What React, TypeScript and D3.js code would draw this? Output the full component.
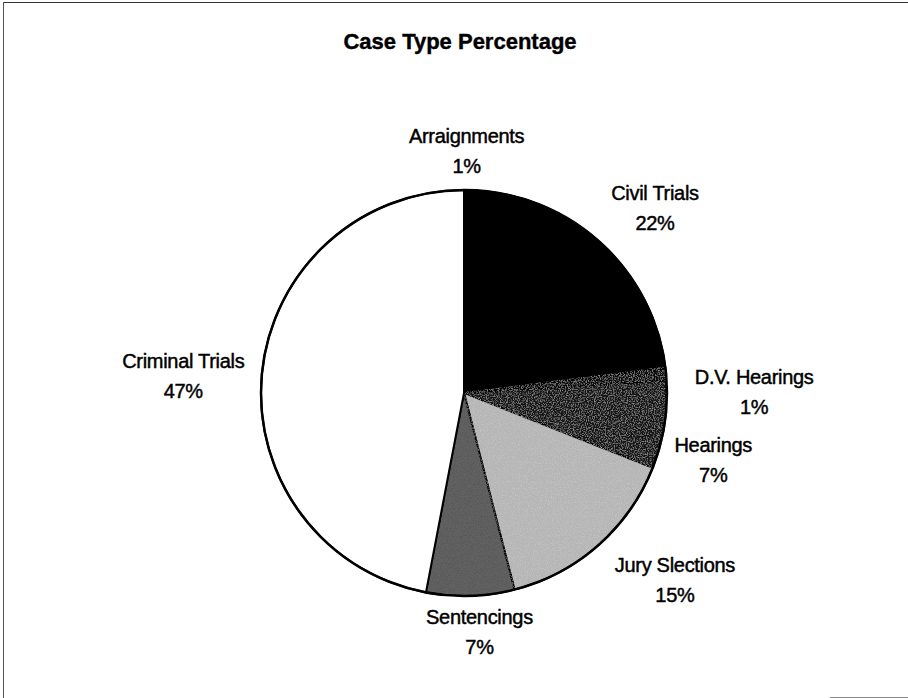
import React from "react";
import * as d3 from "d3";

// case types, clockwise from 12 o'clock
const categories = [
  "Arraignments",
  "Civil Trials",
  "D.V. Hearings",
  "Hearings",
  "Jury Slections",
  "Sentencings",
  "Criminal Trials",
];
const percents = [1, 22, 1, 7, 15, 7, 47];
const fills = ["#000000", "#000000", "#0c0c0c", "#121212", "#b6b6b6", "#626262", "#ffffff"];
const grains = ["", "", "grainDim", "grainDim", "grainSoft", "grainDark", ""];

// small hand tweaks so the labels sit where Excel put them
const labelNudge: Record<string, [number, number]> = {
  "Arraignments": [-6, -3],
  "Civil Trials": [3, -11],
  "D.V. Hearings": [12, 21],
  "Hearings": [-3, 30],
  "Jury Slections": [23, 8],
  "Sentencings": [7, 0],
  "Criminal Trials": [7, 5],
};

const W = 908;
const H = 698;
const cx = 464;
const cy = 393;
const radius = 203;

type Slice = { name: string; value: number; fill: string; grain: string };

// noise filter: speckles of a given grey, with a given density
const Grain = ({ id, grey, amount, seed }: { id: string; grey: number; amount: number; seed: number }) => (
  <filter id={id} x="0" y="0" width="100%" height="100%">
    <feTurbulence type="fractalNoise" baseFrequency="0.85" numOctaves="2" seed={seed} result="noise" />
    <feColorMatrix
      in="noise"
      type="matrix"
      values={`0 0 0 0 ${grey}  0 0 0 0 ${grey}  0 0 0 0 ${grey}  ${amount} 0 0 0 ${-amount * 0.46}`}
      result="dots"
    />
    <feComposite in="dots" in2="SourceGraphic" operator="in" result="clipped" />
    <feMerge>
      <feMergeNode in="SourceGraphic" />
      <feMergeNode in="clipped" />
    </feMerge>
  </filter>
);

const App = () => {
  const data: Slice[] = categories.map((name, i) => ({
    name,
    value: percents[i],
    fill: fills[i],
    grain: grains[i],
  }));

  const pie = d3
    .pie<Slice>()
    .sort(null)
    .value((d) => d.value)
    .startAngle(0)
    .endAngle(2 * Math.PI);
  const arcs = pie(data);

  const arc = d3.arc<d3.PieArcDatum<Slice>>().innerRadius(0).outerRadius(radius);

  const labelPos = (a: d3.PieArcDatum<Slice>) => {
    const mid = (a.startAngle + a.endAngle) / 2;
    const s = Math.sin(mid);
    const c = Math.cos(mid);
    const r = radius + 14;
    const w = a.data.name.length * 9.6;
    const [nx, ny] = labelNudge[a.data.name] || [0, 0];
    return {
      x: cx + s * r + (s * w) / 2 + nx,
      y: cy - c * r - c * 22 + ny,
    };
  };

  return (
    <svg
      width={W}
      height={H}
      style={{ position: "absolute", left: 0, top: 0, background: "#fff" }}
      fontFamily="'Liberation Sans', Arial, sans-serif"
    >
      <defs>
        <Grain id="grainDim" grey={0.24} amount={3} seed={3} />
        <Grain id="grainSoft" grey={0.62} amount={1.6} seed={5} />
        <Grain id="grainDark" grey={0.1} amount={5} seed={7} />
      </defs>

      {/* frame */}
      <line x1={3} y1={2.5} x2={W} y2={2.5} stroke="#333" strokeWidth={1} />
      <line x1={3.5} y1={2} x2={3.5} y2={H} stroke="#555" strokeWidth={1} />
      <line x1={830} y1={697.5} x2={W} y2={697.5} stroke="#888" strokeWidth={1} />

      <text
        x={460}
        y={49}
        textAnchor="middle"
        fontSize={22}
        fontWeight="bold"
        fill="#000"
        stroke="#000"
        strokeWidth={0.4}
      >
        Case Type Percentage
      </text>

      <g transform={`translate(${cx},${cy})`}>
        {arcs.map((a) => (
          <path
            key={a.data.name}
            d={arc(a) || ""}
            fill={a.data.fill}
            stroke="#000"
            strokeWidth={2}
            strokeLinejoin="round"
            filter={a.data.grain ? `url(#${a.data.grain})` : undefined}
          />
        ))}
        <circle r={radius} fill="none" stroke="#000" strokeWidth={2.5} />
      </g>

      {arcs.map((a) => {
        const p = labelPos(a);
        return (
          <text
            key={a.data.name}
            textAnchor="middle"
            fontSize={20}
            fill="#000"
            stroke="#000"
            strokeWidth={0.45}
            letterSpacing={-0.3}
          >
            <tspan x={p.x} y={p.y - 8}>
              {a.data.name}
            </tspan>
            <tspan x={p.x} y={p.y + 22}>
              {a.data.value}%
            </tspan>
          </text>
        );
      })}
    </svg>
  );
};

export default App;
